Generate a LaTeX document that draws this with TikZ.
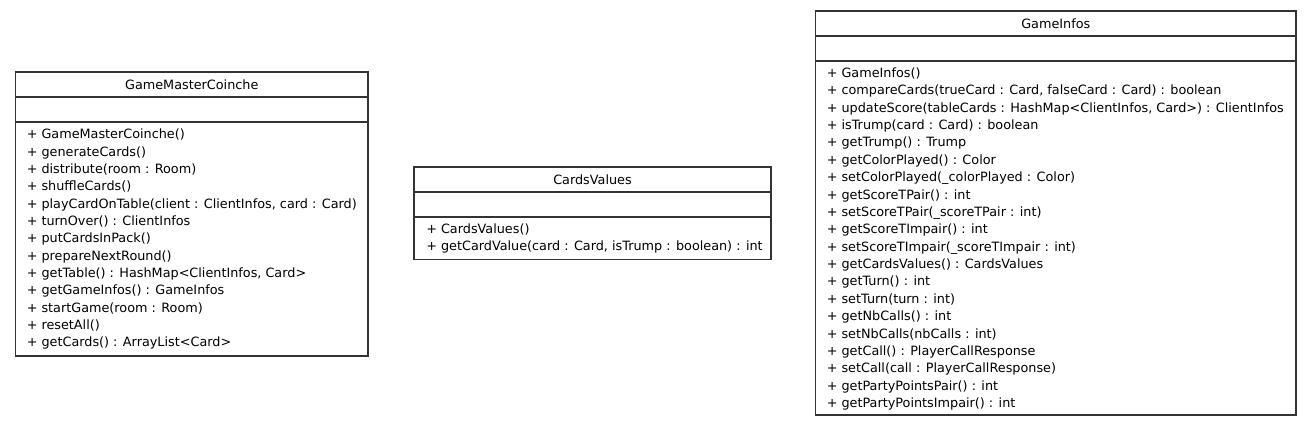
\documentclass[tikz,border=0pt]{standalone}
\usepackage{fontspec}
\setmainfont{DejaVu Sans}
\usepackage{tikz}

\tikzset{
  classbox/.style={draw={rgb,255:red,51;green,51;blue,51}, line width=1.1pt},
  classname/.style={inner sep=0pt, font={\fontsize{9.6}{12}\selectfont}},
  member/.style={anchor=base west, inner sep=0pt, font={\fontsize{9.6}{12}\selectfont}},
}

\begin{document}
\begin{tikzpicture}[x=0.75pt,y=0.75pt,yscale=-1,xscale=1]
  \useasboundingbox (0,0) rectangle (1312,427);

  % GameMasterCoinche
  \draw [classbox] (15.5,72) rectangle (368,356);
  \draw [classbox] (15.5,97) -- (368,97);
  \draw [classbox] (15.5,122) -- (368,122);
  \node [classname] (gmcName) at (191.75,84.5) {GameMasterCoinche};
  \foreach \op [count=\i] in {%
      {+ GameMasterCoinche()},
      {+ generateCards()},
      {+ distribute(room : Room)},
      {+ shuffleCards()},
      {+ playCardOnTable(client : ClientInfos, card : Card)},
      {+ turnOver() : ClientInfos},
      {+ putCardsInPack()},
      {+ prepareNextRound()},
      {+ getTable() : HashMap<ClientInfos, Card>},
      {+ getGameInfos() : GameInfos},
      {+ startGame(room : Room)},
      {+ resetAll()},
      {+ getCards() : ArrayList<Card>}}
    \node [member] (gmcOp\i) at (26.5,{139+17.33*(\i-1)}) {\op};

  % CardsValues
  \draw [classbox] (414,167) rectangle (771,259.5);
  \draw [classbox] (414,192) -- (771,192);
  \draw [classbox] (414,217) -- (771,217);
  \node [classname] (cvName) at (592.5,179.5) {CardsValues};
  \foreach \op [count=\i] in {%
      {+ CardsValues()},
      {+ getCardValue(card : Card, isTrump : boolean) : int}}
    \node [member] (cvOp\i) at (426,{233.5+17.33*(\i-1)}) {\op};

  % GameInfos
  \draw [classbox] (815.5,11) rectangle (1296,415);
  \draw [classbox] (815.5,36) -- (1296,36);
  \draw [classbox] (815.5,61) -- (1296,61);
  \node [classname] (giName) at (1055.75,23.5) {GameInfos};
  \foreach \op [count=\i] in {%
      {+ GameInfos()},
      {+ compareCards(trueCard : Card, falseCard : Card) : boolean},
      {+ updateScore(tableCards : HashMap<ClientInfos, Card>) : ClientInfos},
      {+ isTrump(card : Card) : boolean},
      {+ getTrump() : Trump},
      {+ getColorPlayed() : Color},
      {+ setColorPlayed(\_colorPlayed : Color)},
      {+ getScoreTPair() : int},
      {+ setScoreTPair(\_scoreTPair : int)},
      {+ getScoreTImpair() : int},
      {+ setScoreTImpair(\_scoreTImpair : int)},
      {+ getCardsValues() : CardsValues},
      {+ getTurn() : int},
      {+ setTurn(turn : int)},
      {+ getNbCalls() : int},
      {+ setNbCalls(nbCalls : int)},
      {+ getCall() : PlayerCallResponse},
      {+ setCall(call : PlayerCallResponse)},
      {+ getPartyPointsPair() : int},
      {+ getPartyPointsImpair() : int}}
    \node [member] (giOp\i) at (826.5,{77.5+17.37*(\i-1)}) {\op};
\end{tikzpicture}
\end{document}
